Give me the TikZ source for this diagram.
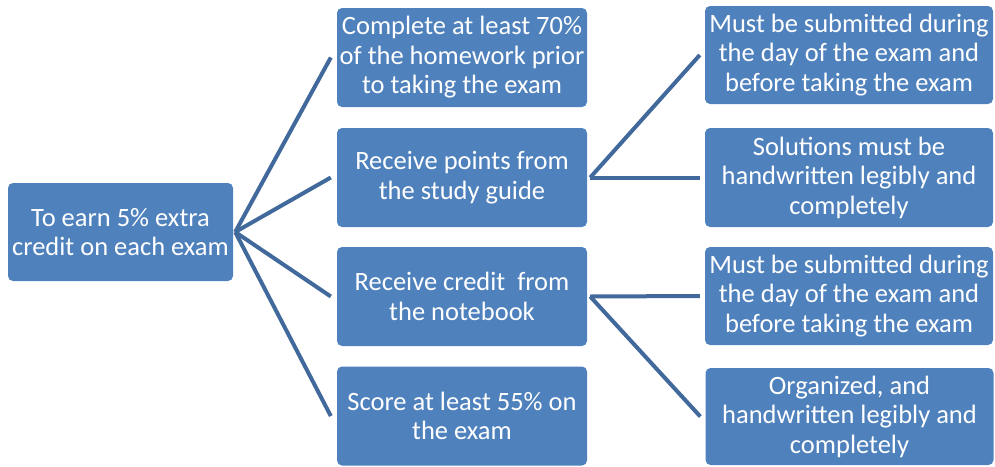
\documentclass[tikz,border=0pt]{standalone}
\usepackage{fontspec}
\setmainfont{Carlito}
\definecolor{boxblue}{RGB}{79,129,189}
\definecolor{lineblue}{RGB}{65,105,156}
\tikzset{
    item/.style={fill=boxblue, rounded corners=5pt, text=white, align=center,
        inner sep=0pt, font=\fontsize{26.5}{29.5}\selectfont},
    link/.style={draw=lineblue, line width=4pt, line cap=butt, line join=miter}
}
\begin{document}
\begin{tikzpicture}[x=1pt, y=-1pt]
    \useasboundingbox (0,0) rectangle (995,466);
    \node[item, minimum width=225pt, minimum height=98pt] (goal) at (120.5,232) {To earn 5\% extra\\credit on each exam};
    \node[item, minimum width=250pt, minimum height=99pt] (hw) at (462,57.5) {Complete at least 70\%\\of the homework prior\\to taking the exam};
    \node[item, minimum width=250pt, minimum height=99pt] (guide) at (462,177.5) {Receive points from\\the study guide};
    \node[item, minimum width=250pt, minimum height=99pt] (notebook) at (462,296.5) {Receive credit~ from\\the notebook};
    \node[item, minimum width=250pt, minimum height=99pt] (score) at (462,416) {Score at least 55\% on\\the exam};
    \node[item, minimum width=288pt, minimum height=98pt] (gsubmit) at (849,55) {Must be submitted during\\the day of the exam and\\before taking the exam};
    \node[item, minimum width=288pt, minimum height=99pt] (gwrite) at (849,177.5) {Solutions must be\\handwritten legibly and\\completely};
    \node[item, minimum width=288pt, minimum height=98pt] (nsubmit) at (849,296) {Must be submitted during\\the day of the exam and\\before taking the exam};
    \node[item, minimum width=288pt, minimum height=97pt] (nwrite) at (849.5,416.5) {Organized, and\\handwritten legibly and\\completely};
    \foreach \child in {hw, guide, notebook, score}
        \draw[link] ([xshift=2pt]goal.east) -- ([xshift=-6pt]\child.west);
    \foreach \child in {gsubmit, gwrite}
        \draw[link] ([xshift=3pt]guide.east) -- ([xshift=-5pt]\child.west);
    \foreach \child in {nsubmit, nwrite}
        \draw[link] ([xshift=3pt]notebook.east) -- ([xshift=-5pt]\child.west);
\end{tikzpicture}
\end{document}
